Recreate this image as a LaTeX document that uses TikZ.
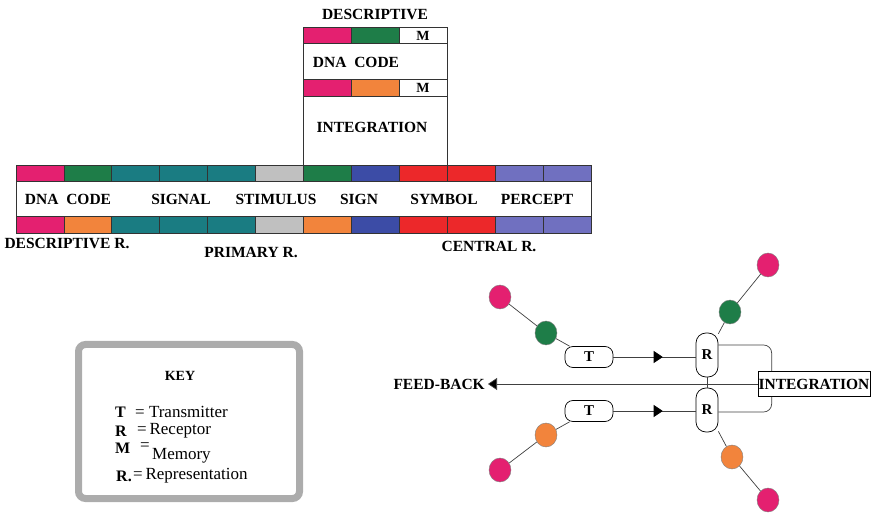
\documentclass[tikz,border=0pt]{standalone}
\usepackage{fontspec}
\setmainfont{Liberation Serif}
\usetikzlibrary{arrows.meta,shapes.geometric,decorations.markings}

\definecolor{cpink}{RGB}{228,32,112}
\definecolor{cgreen}{RGB}{30,125,72}
\definecolor{cteal}{RGB}{26,124,130}
\definecolor{cgray}{RGB}{192,192,192}
\definecolor{cblue}{RGB}{60,76,166}
\definecolor{cred}{RGB}{236,40,42}
\definecolor{cpurple}{RGB}{112,112,192}
\definecolor{corange}{RGB}{242,132,60}
\definecolor{keygray}{RGB}{172,172,172}

\begin{document}
\begin{tikzpicture}[x=1pt, y=-1pt,
  lbl/.style={font=\fontsize{15.5}{17}\selectfont\bfseries, inner sep=0pt},
  cell/.style={draw=black!80, line width=0.8pt},
  wire/.style={draw=black!75, line width=0.7pt},
  tbox/.style={draw, line width=0.7pt, rounded corners=8pt, minimum width=48pt,
    minimum height=21pt, inner sep=0pt, fill=white, font=\fontsize{15}{17}\selectfont\bfseries},
  rbox/.style={draw, line width=0.7pt, rounded corners=10pt, minimum width=22pt,
    minimum height=44pt, inner sep=0pt, fill=white, font=\fontsize{15}{17}\selectfont\bfseries},
  blob/.style={draw=black!50, ellipse, fill=#1, minimum width=22pt, minimum height=24pt, inner sep=0pt},
  midtip/.style={postaction={decorate}, decoration={markings,
    mark=at position 0.6 with {\arrow[black]{Triangle[length=9pt,width=12pt]}}}},
  keybox/.style={draw=keygray, line width=7pt, rounded corners=7pt, inner sep=0pt},
  keyletter/.style={anchor=west, inner sep=0pt, font=\fontsize{16}{17}\selectfont\bfseries},
  keyword/.style={anchor=west, inner sep=0pt, font=\fontsize{17}{19}\selectfont}]
  \useasboundingbox (0,0) rectangle (871,513);

  \foreach \ct/\cb [count=\i from 0] in {cpink/cpink, cgreen/corange, cteal/cteal, cteal/cteal,
      cteal/cteal, cgray/cgray, cgreen/corange, cblue/cblue, cred/cred, cred/cred,
      cpurple/cpurple, cpurple/cpurple} {
    \filldraw[cell, fill=\ct] ({16+47.92*\i},165) rectangle ++(47.92,16);
    \filldraw[cell, fill=\cb] ({16+47.92*\i},216) rectangle ++(47.92,17);
  }
  \draw[cell] (16,165) rectangle (591,233);

  \draw[cell] (303,27) rectangle (447,165);
  \foreach \ca/\cc [count=\i from 0] in {cpink/cpink, cgreen/corange, white/white} {
    \filldraw[cell, fill=\ca] ({303+48*\i},27) rectangle ++(48,16);
    \filldraw[cell, fill=\cc] ({303+48*\i},79) rectangle ++(48,17);
  }
  \node[lbl, font=\fontsize{14}{15}\selectfont\bfseries] (mtop) at (423,35.5) {M};
  \node[lbl, font=\fontsize{14}{15}\selectfont\bfseries] (mlow) at (423,87.5) {M};
  \node[lbl] (descr) at (375,14) {DESCRIPTIVE};
  \node[lbl] (dnatop) at (356,62) {DNA\ \ CODE};
  \node[lbl] (integtop) at (372,127) {INTEGRATION};

  \node[lbl] (dna) at (68,199) {DNA\ \ CODE};
  \node[lbl] (signal) at (181,199) {SIGNAL};
  \node[lbl] (stimulus) at (276,199) {STIMULUS};
  \node[lbl] (sign) at (359,199) {SIGN};
  \node[lbl] (symbol) at (444,199) {SYMBOL};
  \node[lbl] (percept) at (537,199) {PERCEPT};

  \node[lbl] (descrR) at (67,243) {DESCRIPTIVE R.};
  \node[lbl] (primR) at (251,252) {PRIMARY R.};
  \node[lbl] (centR) at (489,246) {CENTRAL R.};

  \node[keybox, minimum width=221pt, minimum height=154pt] (key) at (189,421.5) {};
  \node[lbl, font=\fontsize{14}{16}\selectfont\bfseries] (keyhead) at (180,376) {KEY};
  \node[keyletter] (kT) at (115,412) {T};
  \node[keyword] (kTw) at (135,412) {= Transmitter};
  \node[keyletter] (kR) at (115,431) {R};
  \node[keyword] (kRw) at (137,431) {=\,Receptor};
  \node[keyletter] (kM) at (115,448) {M};
  \node[keyword] (kMe) at (140,447) {=};
  \node[keyword] (kMw) at (152,456) {Memory};
  \node[keyletter] (kRr) at (116,476) {R.};
  \node[keyword] (kRrw) at (133,476) {=\,Representation};

  \node[tbox] (tUp) at (589,357) {T};
  \node[tbox] (tLo) at (589,411) {T};
  \node[rbox] (rUp) at (707,355) {R};
  \node[rbox] (rLo) at (707,410) {R};
  \node[draw, lbl, line width=0.7pt, minimum width=112pt, minimum height=25pt] (integ) at (814,384) {INTEGRATION};
  \node[lbl, anchor=east] (fb) at (485,384) {FEED-BACK};

  \node[blob=cpink] (pUL) at (500,297) {};
  \node[blob=cgreen] (gUL) at (546,333) {};
  \node[blob=cpink] (pUR) at (768,265) {};
  \node[blob=cgreen] (gUR) at (730,312) {};
  \node[blob=corange] (oLL) at (546,435) {};
  \node[blob=cpink] (pLL) at (500,470) {};
  \node[blob=corange] (oLR) at (732,457) {};
  \node[blob=cpink] (pLR) at (768,500) {};

  \draw[wire] (pUL) -- (gUL) (gUL) -- (tUp);
  \draw[wire] (pUR) -- (gUR) (gUR) -- (rUp);
  \draw[wire] (pLL) -- (oLL) (oLL) -- (tLo);
  \draw[wire] (pLR) -- (oLR) (oLR) -- (rLo);

  \draw[wire, midtip] (tUp.east) -- (tUp.east -| rUp.west);
  \draw[wire, midtip] (tLo.east) -- (tLo.east -| rLo.west);
  \draw[wire] (rUp.south) -- (rLo.north);
  \draw[wire, rounded corners=8pt] ([yshift=10pt]rUp.east) -| ([xshift=14pt]integ.north west);
  \draw[wire, rounded corners=8pt] ([yshift=-2pt]rLo.east) -| ([xshift=14pt]integ.south west);
  \draw[wire, -{Triangle[length=9pt,width=12pt,fill=black]}] (integ.west) -- ([xshift=3pt]fb.east);
\end{tikzpicture}
\end{document}
